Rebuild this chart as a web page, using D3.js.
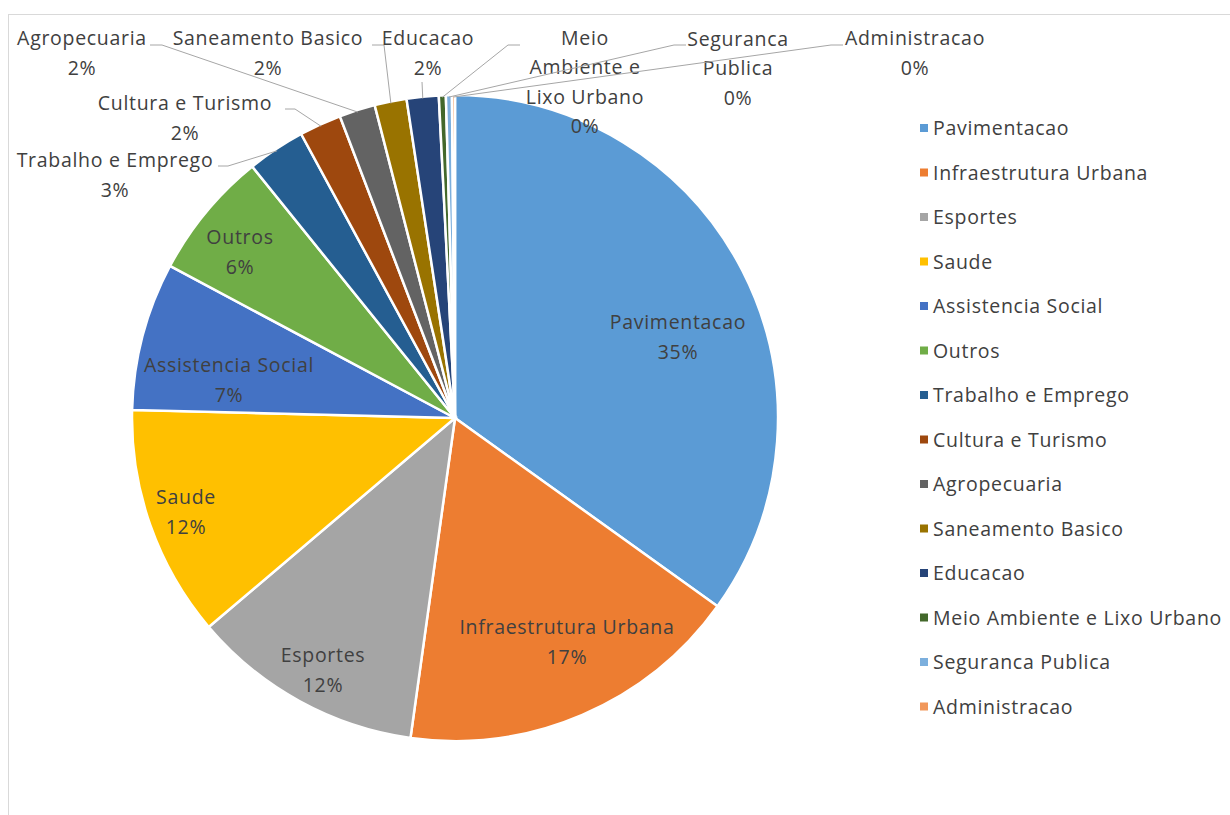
<!DOCTYPE html>
<html>
<head>
<meta charset="utf-8">
<script src="https://cdn.jsdelivr.net/npm/d3@7"></script>
<style>
  body { margin: 0; background: #fff; }
  text { font-family: "Open Sans", Lato, sans-serif; fill: #404040; letter-spacing: 0.7px; }
</style>
</head>
<body>
<svg id="chart" width="1230" height="815"></svg>
<script>
// data
const categories = ['Pavimentacao', 'Infraestrutura Urbana', 'Esportes', 'Saude',
  'Assistencia Social', 'Outros', 'Trabalho e Emprego', 'Cultura e Turismo',
  'Agropecuaria', 'Saneamento Basico', 'Educacao', 'Meio Ambiente e Lixo Urbano',
  'Seguranca Publica', 'Administracao']
const shares = [34.9, 17.3, 11.6, 11.6, 7.4, 6.4, 2.9, 2.1, 1.8, 1.6, 1.6, 0.35, 0.3, 0.15]
const pctLabels = ['35%', '17%', '12%', '12%', '7%', '6%', '3%', '2%', '2%', '2%', '2%', '0%', '0%', '0%']
const colors = ['#5B9BD5', '#ED7D31', '#A5A5A5', '#FFC000', '#4472C4', '#70AD47', '#255E91',
  '#9E480E', '#636363', '#997300', '#264478', '#43682B', '#7CAFDD', '#F1975A']

const W = 1230, H = 815
const cx = 455, cy = 418, R = 323
const fontSize = 19.5, lineH = 29.5

const svg = d3.select('#chart')

// chart area border
svg.append('rect')
  .attr('x', 8.5).attr('y', 14.5)
  .attr('width', W + 10).attr('height', H + 10)
  .attr('fill', 'none').attr('stroke', '#d9d9d9')

const rows = categories.map((c, i) => ({ name: c, value: shares[i], pct: pctLabels[i], color: colors[i] }))

const pie = d3.pie().sort(null).value(d => d.value)
const arcs = pie(rows)
const arc = d3.arc().innerRadius(0).outerRadius(R)

const g = svg.append('g').attr('transform', `translate(${cx},${cy})`)

g.selectAll('path.slice')
  .data(arcs)
  .enter().append('path')
    .attr('class', 'slice')
    .attr('d', arc)
    .attr('fill', d => d.data.color)
    .attr('stroke', '#fff')
    .attr('stroke-width', 2.5)

// label block centres, page coords (excel "best fit" placement)
const labelPos = {
  0: { x: 678, y: 337, lines: ['Pavimentacao'] },
  1: { x: 567, y: 642, lines: ['Infraestrutura Urbana'] },
  2: { x: 323, y: 670, lines: ['Esportes'] },
  3: { x: 186, y: 512, lines: ['Saude'] },
  4: { x: 229, y: 380, lines: ['Assistencia Social'] },
  5: { x: 240, y: 252, lines: ['Outros'] },
  6: { x: 115, y: 175, lines: ['Trabalho e Emprego'], lead: [218, 166, 228, 166] },
  7: { x: 185, y: 118, lines: ['Cultura e Turismo'], lead: [285, 109, 295, 109] },
  8: { x: 82, y: 53, lines: ['Agropecuaria'], lead: [150, 45, 162, 45] },
  9: { x: 268, y: 53, lines: ['Saneamento Basico'], lead: [372, 45, 384, 45] },
  10: { x: 428, y: 53, lines: ['Educacao'], lead: [422, 82, 422, 82] },
  11: { x: 585, y: 82, lines: ['Meio', 'Ambiente e', 'Lixo Urbano'], lead: [520, 45, 508, 45] },
  12: { x: 738, y: 68, lines: ['Seguranca', 'Publica'], lead: [686, 45, 674, 45] },
  13: { x: 915, y: 53, lines: ['Administracao'], lead: [843, 45, 831, 45] }
}

Object.keys(labelPos).forEach(k => {
  const a = arcs[+k]
  const o = labelPos[k]
  if (o.lead) {
    const edge = d3.arc().innerRadius(R - 2).outerRadius(R - 2).centroid(a)
    const ex = cx + edge[0], ey = cy + edge[1]
    svg.append('polyline')
      .attr('points', [[o.lead[0], o.lead[1]], [o.lead[2], o.lead[3]], [ex, ey]].map(p => p.join(',')).join(' '))
      .attr('fill', 'none')
      .attr('stroke', '#a6a6a6')
      .attr('stroke-width', 1)
  }
  const lines = o.lines.concat([a.data.pct])
  const top = o.y - (lines.length - 1) * lineH / 2
  const t = svg.append('text')
    .attr('text-anchor', 'middle')
    .style('font-size', fontSize + 'px')
  lines.forEach((s, j) => {
    t.append('tspan').attr('x', o.x).attr('y', top + 7 + j * lineH).text(s)
  })
})

// legend
const legend = svg.append('g').attr('transform', 'translate(920,128)')
const item = legend.selectAll('g.item')
  .data(rows)
  .enter().append('g')
    .attr('class', 'item')
    .attr('transform', (d, i) => `translate(0,${i * 44.5})`)
item.append('rect')
  .attr('x', 0).attr('y', -4)
  .attr('width', 8).attr('height', 8)
  .attr('fill', d => d.color)
item.append('text')
  .attr('x', 13).attr('y', 7)
  .style('font-size', fontSize + 'px')
  .text(d => d.name)
</script>
</body>
</html>
